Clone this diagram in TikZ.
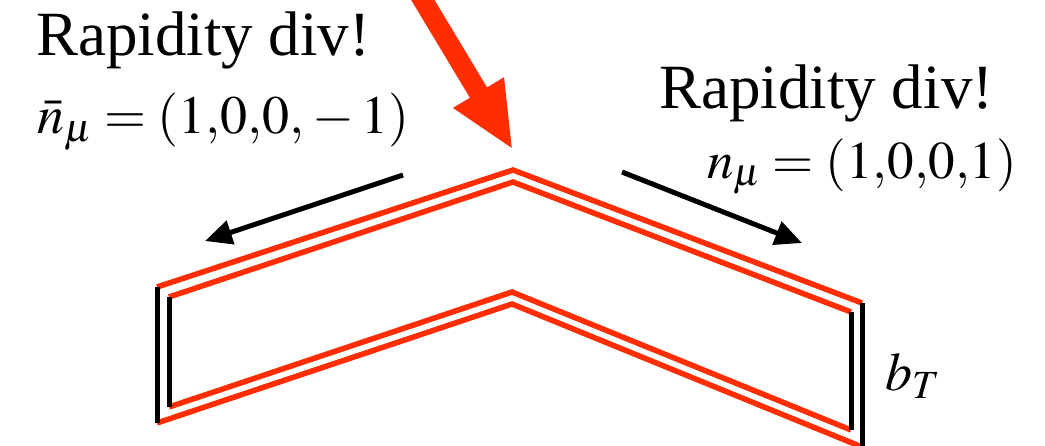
\documentclass[tikz,border=0pt]{standalone}
\usepackage{mathptmx}
\usepackage{fontspec}
\setmainfont{Liberation Serif}
\usetikzlibrary{arrows.meta}
\definecolor{wilsonred}{RGB}{255,45,0}

\begin{document}
\begin{tikzpicture}[x=1pt, y=-1pt,
  redline/.style={wilsonred, line width=5.5pt},
  blackline/.style={black, line width=5pt},
  dirarrow/.style={black, line width=5pt, -{Triangle[length=27pt,width=24pt]}},
  hitarrow/.style={wilsonred, line width=20pt, -{Triangle[length=67pt,width=54pt]}},
  bigtext/.style={inner sep=0pt, anchor=base west, font=\fontsize{63}{70}\selectfont},
  mathtext/.style={bigtext, font=\fontsize{54}{62}\selectfont}]
\useasboundingbox (0,0) rectangle (1045,445);
% outer loop
\coordinate (o1) at (157,287);
\coordinate (o2) at (513,170);
\coordinate (o3) at (862,303);
\coordinate (o4) at (862,447);
\coordinate (o5) at (512,304);
\coordinate (o6) at (157,423);
% inner loop
\coordinate (i1) at (169,297);
\coordinate (i2) at (513,182);
\coordinate (i3) at (851,312);
\coordinate (i4) at (851,430);
\coordinate (i5) at (512,292);
\coordinate (i6) at (169,407);

\draw[redline] (o1) -- (o2) -- (o3);
\draw[redline] (i1) -- (i2) -- (i3);
\draw[redline] (o6) -- (o5) -- (o4);
\draw[redline] (i6) -- (i5) -- (i4);
\draw[blackline] (o1) -- (o6);
\draw[blackline] (i1) -- (i6);
\draw[blackline] (o3) -- (o4);
\draw[blackline] (i3) -- (i4);

\node[bigtext] (rapl) at (36,55) {Rapidity div!};
\node[mathtext] (nbar) at (37,133) {$\bar n_\mu = (1{,}0{,}0{,}{}-1)$};
\node[bigtext] (rapr) at (659,108) {Rapidity div!};
\node[mathtext, font=\fontsize{53}{62}\selectfont] (n) at (707,178) {$n_\mu = (1{,}0{,}0{,}1)$};
\node[bigtext, font=\fontsize{54}{60}\selectfont] (bT) at (885,390) {$b_T$};

\coordinate (lstart) at (403,175);
\coordinate (ltip) at (205,241);
\coordinate (rstart) at (622,172);
\coordinate (rtip) at (802,243);
\coordinate (hit) at (409,-23);
\draw[dirarrow] (lstart) -- (ltip);
\draw[dirarrow] (rstart) -- (rtip);
\draw[hitarrow] (hit) -- (o2 |- 0,150);
\end{tikzpicture}
\end{document}
